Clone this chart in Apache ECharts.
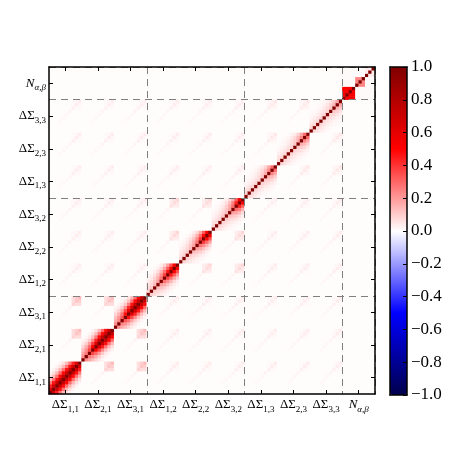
<!DOCTYPE html>
<html><head><meta charset="utf-8">
<script src="https://cdn.jsdelivr.net/npm/echarts@6/dist/echarts.min.js"></script>
<style>html,body{margin:0;padding:0;background:#fff}#c{width:463px;height:463px}</style>
</head><body><div id="c"></div><script>
// ---- data ----
const labelSym = ['ΔΣ','ΔΣ','ΔΣ','ΔΣ','ΔΣ','ΔΣ','ΔΣ','ΔΣ','ΔΣ','N'];
const labelSub = ['1,1','2,1','3,1','1,2','2,2','3,2','1,3','2,3','3,3','α,β'];
const cellsPerBlock = 10;
// correlation versus bin separation (lag) at full band strength
const lagProfile = [1, 0.72, 0.48, 0.28, 0.14, 0.06, 0.02];
// band strength per radial bin, for each ΔΣ block
const blockStrength = [
  [0.85,0.9,0.95,1,1,1,1,0.95,0.9,0.85],
  [0.3,0.3,0.4,0.6,0.8,0.95,1,1,1,1],
  [0.3,0.3,0.35,0.55,0.75,0.9,1,1,1,1],
  [0.12,0.12,0.15,0.2,0.3,0.45,0.58,0.68,0.72,0.7],
  [0.1,0.1,0.12,0.15,0.2,0.3,0.45,0.62,0.72,0.72],
  [0.1,0.1,0.1,0.12,0.15,0.2,0.3,0.5,0.72,0.78],
  [0.1,0.1,0.1,0.1,0.1,0.12,0.16,0.26,0.38,0.42],
  [0.1,0.1,0.1,0.1,0.1,0.12,0.16,0.26,0.38,0.42],
  [0.1,0.1,0.1,0.1,0.1,0.1,0.12,0.16,0.22,0.25]
];
// N block: sub-groups and their internal correlation
const nGroup = [0,0,0,0,1,1,1,2,2,2];
const nGroupCorr = [0.52, 0.24, 0.04];
const nCrossGroup = 0.01;
const baseCorr = 0.006;
// same radial bin, different ΔΣ blocks
const sameBinCross = [0,0,0,0.005,0.01,0.012,0.015,0.018,0.02,0.02];
// large-radius cross correlation between blocks
const endPatch = [0,0,0,0,0,0,0,0.06,0.09,0.11];
const lensGroupScale = [1, 0.5, 0.2];
const crossGroupScale = 0.1;
const cbarMin = -1, cbarMax = 1, cbarStep = 0.2;

// ---- build matrix table ----
const nBlocks = labelSym.length;
const nCells = nBlocks * cellsPerBlock;
const cellIdx = [];
for (let i = 0; i < nCells; i++) cellIdx.push(String(i));
function corr(I, J) {
  if (I === J) return 1;
  const b1 = Math.floor(I / cellsPerBlock), k = I % cellsPerBlock;
  const b2 = Math.floor(J / cellsPerBlock), l = J % cellsPerBlock;
  const nb = nBlocks - 1;
  if (b1 === nb && b2 === nb) {
    return nGroup[k] === nGroup[l] ? nGroupCorr[nGroup[k]] : nCrossGroup;
  }
  if (b1 === nb || b2 === nb) return baseCorr;
  if (b1 === b2) {
    const L = Math.abs(k - l);
    const s = blockStrength[b1];
    const p = L < lagProfile.length ? lagProfile[L] : 0;
    return baseCorr + p * (s[k] + s[l]) / 2;
  }
  let v = baseCorr;
  if (k === l) v += sameBinCross[k];
  const lens1 = Math.floor(b1 / 3), lens2 = Math.floor(b2 / 3);
  const w = Math.min(endPatch[k], endPatch[l]);
  v += w * (lens1 === lens2 ? lensGroupScale[lens1] : crossGroupScale);
  return v;
}
const heat = [];
for (let i = 0; i < nCells; i++) for (let j = 0; j < nCells; j++) heat.push([i, j, corr(i, j)]);

const FONT = 'Liberation Serif';
const richStyles = {
  m: {fontFamily: FONT, fontSize: 13, color: '#000', lineHeight: 18},
  s: {fontFamily: FONT, fontSize: 9, color: '#000', lineHeight: 18, verticalAlign: 'bottom'},
  mi: {fontFamily: FONT, fontSize: 13, fontStyle: 'italic', color: '#000', lineHeight: 18},
  si: {fontFamily: FONT, fontSize: 9, fontStyle: 'italic', color: '#000', lineHeight: 18, verticalAlign: 'bottom'}
};
const blockLabels = labelSym.map((s, i) => String(i));
function fmtLabel(v) {
  const i = Number(v);
  const italic = labelSym[i] === 'N';
  return italic ? `{mi|${labelSym[i]}}{si|${labelSub[i]}}` : `{m|${labelSym[i]}}{s|${labelSub[i]}}`;
}
const frame = {show: true, onZero: false, lineStyle: {color: '#000', width: 1.5}};
const splitDash = {show: true, interval: (i) => i > 0 && i % 30 === 0,
  lineStyle: {color: '#7f7f7f', width: 1, type: [7, 5]}};
const cellAxis = (pos) => ({type: 'category', gridIndex: 0, data: cellIdx, position: pos,
  axisLine: {show: false}, axisTick: {show: false}, axisLabel: {show: false},
  splitLine: splitDash, z: 5});
const lblAxis = (pos, showLbl, vert) => ({type: 'category', gridIndex: 0, data: blockLabels, position: pos,
  axisLine: frame, axisTick: {show: true, inside: true, alignWithLabel: true, length: 4, lineStyle: {color: '#000'}},
  axisLabel: {show: showLbl, interval: 0, margin: vert ? 3 : 2, formatter: fmtLabel, rich: richStyles},
  splitLine: {show: false}, z: 6});

const chart = echarts.init(document.getElementById('c'), null, {renderer: 'canvas'});
chart.setOption({
  animation: false,
  backgroundColor: '#fff',
  grid: [
    {left: 49, top: 67, width: 326, height: 327},
    {left: 390, top: 67, width: 17, height: 328}
  ],
  xAxis: [
    cellAxis('bottom'),
    lblAxis('bottom', true, false),
    lblAxis('top', false, false),
    {type: 'value', gridIndex: 1, position: 'bottom', axisLine: frame, axisTick: {show: false}, axisLabel: {show: false}, splitLine: {show: false}, z: 6},
    {type: 'value', gridIndex: 1, position: 'top', axisLine: frame, axisTick: {show: false}, axisLabel: {show: false}, splitLine: {show: false}, z: 6}
  ],
  yAxis: [
    cellAxis('left'),
    lblAxis('left', true, true),
    lblAxis('right', false, true),
    {type: 'value', gridIndex: 1, position: 'right', min: cbarMin, max: cbarMax, interval: cbarStep,
      axisLine: frame, axisTick: {show: true, inside: true, length: 4, lineStyle: {color: '#000'}},
      axisLabel: {margin: 4, fontFamily: FONT, fontSize: 17, color: '#000',
        formatter: (v) => v.toFixed(1).replace('-', '−')},
      splitLine: {show: false}, z: 6},
    {type: 'value', gridIndex: 1, position: 'left', min: cbarMin, max: cbarMax, axisLine: frame, axisTick: {show: false}, axisLabel: {show: false}, splitLine: {show: false}, z: 6}
  ],
  visualMap: {
    type: 'continuous', min: cbarMin, max: cbarMax, dimension: 2, seriesIndex: 0,
    orient: 'vertical', left: 390, top: 67, itemWidth: 17, itemHeight: 328, padding: 0,
    calculable: false, hoverLink: false,
    inRange: {color: ['#00004d', '#0000ff', '#ffffff', '#ff0000', '#800000']}
  },
  series: [{
    type: 'heatmap', xAxisIndex: 0, yAxisIndex: 0, data: heat, progressive: 0,
    emphasis: {disabled: true}
  }]
});
</script></body></html>
